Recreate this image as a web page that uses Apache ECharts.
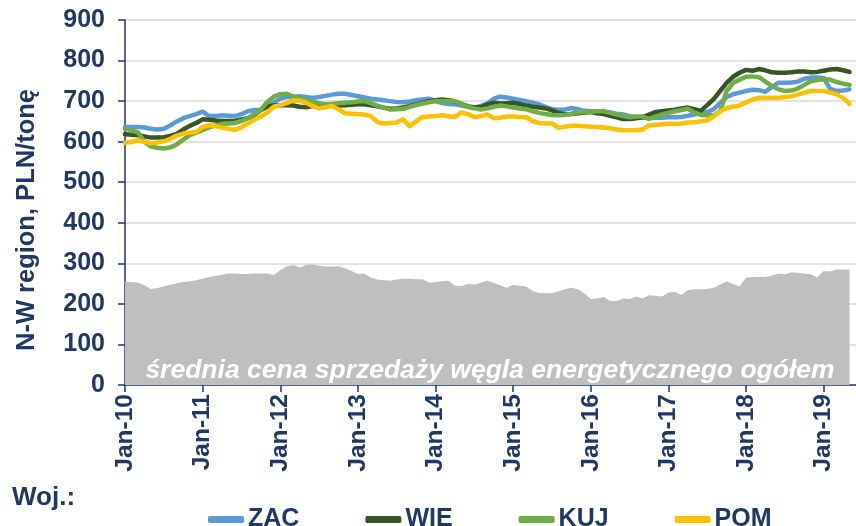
<!DOCTYPE html>
<html>
<head>
<meta charset="utf-8">
<script src="https://cdn.jsdelivr.net/npm/echarts@6/dist/echarts.min.js"></script>
<style>
  html, body { margin: 0; padding: 0; background: #fff; }
  #main { width: 856px; height: 526px; }
</style>
</head>
<body>
<div id="main"></div>
<script>
// miesiace: Jan-10 .. Jun-19
var months = [];
var mNames = ['Jan', 'Feb', 'Mar', 'Apr', 'May', 'Jun', 'Jul', 'Aug', 'Sep', 'Oct', 'Nov', 'Dec'];
for (var y = 10; y <= 19; y++) {
    for (var k = 0; k < 12; k++) {
        if (y === 19 && k > 5) break;
        months.push(mNames[k] + '-' + y);
    }
}

// srednia cena sprzedazy wegla energetycznego ogolem
var avg = [255, 254, 253, 246, 237, 239, 243, 247, 251, 254, 256, 258,
    262, 266, 269, 272, 275, 275, 274, 274, 275, 275, 275, 271,
    283, 292, 296, 290, 296, 297, 294, 292, 292, 293, 288, 281,
    274, 275, 265, 260, 258, 257, 260, 262, 262, 261, 261, 252,
    254, 256, 257, 245, 244, 249, 248, 252, 257, 252, 246, 240,
    247, 245, 243, 232, 227, 226, 226, 231, 236, 240, 236, 226,
    212, 213, 217, 207, 207, 213, 212, 218, 213, 221, 220, 218,
    228, 230, 222, 234, 236, 236, 237, 240, 248, 255, 249, 243,
    265, 266, 266, 266, 270, 275, 273, 278, 277, 275, 273, 265,
    281, 280, 285, 285, 284];

var zac = [636, 636, 636, 635, 632, 630, 632, 640, 650, 658, 663, 668,
    674, 663, 663, 665, 664, 663, 668, 675, 678, 679, 688, 696,
    706, 710, 711, 712, 710, 708, 710, 713, 716, 718, 718, 715,
    712, 709, 706, 704, 702, 700, 698, 697, 699, 702, 704, 706,
    700, 695, 693, 692, 689, 686, 684, 688, 694, 706, 711, 709,
    706, 703, 700, 696, 692, 686, 680, 679, 679, 683, 680, 676,
    675, 674, 673, 672, 669, 667, 663, 660, 659, 659, 659, 659,
    660, 660, 661, 664, 667, 670, 673, 680, 695, 710, 717, 721,
    725, 728, 727, 723, 735, 745, 745, 746, 748, 755, 758, 758,
    757, 730, 725, 726, 729];

var wie = [618, 617, 616, 613, 610, 610, 611, 614, 619, 630, 639, 646,
    655, 654, 652, 651, 651, 651, 655, 658, 666, 678, 686, 689,
    690, 690, 689, 686, 685, 688, 689, 689, 689, 689, 690, 691,
    692, 692, 690, 687, 684, 681, 682, 684, 688, 692, 696, 700,
    702, 704, 702, 699, 693, 687, 685, 685, 692, 696, 694, 695,
    696, 693, 689, 686, 684, 682, 677, 671, 667, 668, 670, 672,
    673, 670, 668, 664, 660, 656, 656, 658, 660, 667, 673, 675,
    677, 679, 682, 684, 680, 676, 690, 705, 725, 745, 760, 770,
    777, 775, 779, 776, 771, 770, 770, 771, 773, 773, 771, 772,
    775, 778, 779, 776, 772];

var kuj = [632, 628, 623, 600, 588, 585, 583, 586, 593, 605, 616, 622,
    629, 635, 640, 644, 645, 646, 651, 658, 668, 679, 698, 711,
    717, 718, 711, 706, 702, 699, 695, 692, 693, 695, 696, 697,
    699, 700, 695, 689, 684, 679, 680, 681, 686, 690, 694, 697,
    700, 700, 700, 700, 693, 686, 682, 679, 682, 686, 689, 687,
    684, 682, 680, 675, 671, 668, 666, 665, 666, 669, 672, 674,
    674, 675, 675, 671, 667, 663, 660, 662, 662, 656, 662, 667,
    671, 675, 678, 681, 672, 666, 665, 665, 675, 725, 745, 753,
    760, 761, 759, 748, 737, 729, 725, 726, 731, 740, 749, 752,
    754, 753, 747, 743, 740];

var pom = [597, 600, 603, 600, 596, 598, 601, 607, 615, 620, 622, 624,
    636, 641, 638, 635, 632, 629, 636, 645, 654, 662, 672, 686,
    690, 695, 702, 701, 696, 688, 682, 685, 688, 680, 670, 669,
    668, 667, 663, 648, 645, 646, 647, 655, 638, 650, 661, 662,
    663, 665, 663, 661, 672, 668, 661, 663, 667, 658, 659, 662,
    662, 661, 660, 651, 646, 645, 645, 634, 637, 639, 639, 638,
    637, 636, 635, 633, 630, 628, 628, 628, 630, 640, 642, 643,
    644, 644, 645, 647, 648, 650, 653, 662, 675, 683, 686, 689,
    697, 704, 708, 708, 708, 708, 710, 712, 716, 721, 725, 725,
    725, 721, 717, 708, 693];

var navy = '#203864';
var font = '"Liberation Sans", Arial, sans-serif';

var myChart = echarts.init(document.getElementById('main'));

function lineSeries(name, data, color) {
    return {
        name: name,
        type: 'line',
        data: data,
        symbol: 'none',
        smooth: false,
        lineStyle: { color: color, width: 4.5, cap: 'round', join: 'round' },
        itemStyle: { color: color }
    };
}

var option = {
    animation: false,
    backgroundColor: '#fff',
    textStyle: { fontFamily: font },
    grid: { left: 125, right: 0, top: 20, bottom: 141, containLabel: false },
    legend: {
        data: ['ZAC', 'WIE', 'KUJ', 'POM'],
        left: 203,
        top: 502,
        itemWidth: 36,
        itemHeight: 7,
        itemGap: 66,
        icon: 'roundRect',
        textStyle: { color: navy, fontSize: 25, fontWeight: 'bold', fontFamily: font, padding: [0, 0, 0, -1] }
    },
    xAxis: {
        type: 'category',
        data: months,
        boundaryGap: false,
        axisLine: { lineStyle: { color: navy, width: 1.5 } },
        axisTick: {
            interval: function (idx) { return idx % 12 === 0; },
            length: 7,
            lineStyle: { color: navy, width: 1.5 }
        },
        axisLabel: {
            interval: function (idx) { return idx % 12 === 0; },
            rotate: 90,
            margin: 9,
            color: navy,
            fontSize: 24.5,
            fontWeight: 'bold',
            fontFamily: font
        },
        splitLine: { show: false }
    },
    yAxis: {
        type: 'value',
        min: 0,
        max: 900,
        interval: 100,
        axisLine: { show: true, lineStyle: { color: navy, width: 1.5 } },
        axisTick: { show: true, length: 7, lineStyle: { color: navy, width: 1.5 } },
        axisLabel: { margin: 20, color: navy, fontSize: 25, fontWeight: 'bold', fontFamily: font },
        splitLine: { lineStyle: { color: '#d9d9d9', width: 1.5 } }
    },
    graphic: [
        {
            // nazwa osi Y
            type: 'text',
            x: 27,
            y: 220,
            rotation: Math.PI / 2,
            style: {
                text: 'N-W region, PLN/tonę',
                fill: navy,
                fontSize: 25.5,
                fontWeight: 'bold',
                fontFamily: font,
                textAlign: 'center',
                textVerticalAlign: 'middle'
            }
        },
        {
            type: 'text',
            left: 12,
            top: 485,
            style: { text: 'Woj.:', fill: navy, fontSize: 26, fontWeight: 'bold', fontFamily: font }
        },
        {
            type: 'text',
            x: 490,
            y: 371,
            z: 10,
            style: {
                text: 'średnia cena sprzedaży węgla energetycznego ogółem',
                fill: '#fff',
                fontSize: 26.5,
                fontWeight: 'bold',
                fontStyle: 'italic',
                fontFamily: font,
                textAlign: 'center',
                textVerticalAlign: 'middle'
            }
        }
    ],
    series: [
        {
            name: 'avg',
            type: 'line',
            data: avg,
            symbol: 'none',
            lineStyle: { width: 0 },
            areaStyle: { color: '#bfbfbf', opacity: 1 },
            z: 1
        },
        lineSeries('ZAC', zac, '#5b9bd5'),
        lineSeries('WIE', wie, '#375623'),
        lineSeries('KUJ', kuj, '#70ad47'),
        lineSeries('POM', pom, '#ffc000')
    ]
};
myChart.setOption(option);
</script>
</body>
</html>
